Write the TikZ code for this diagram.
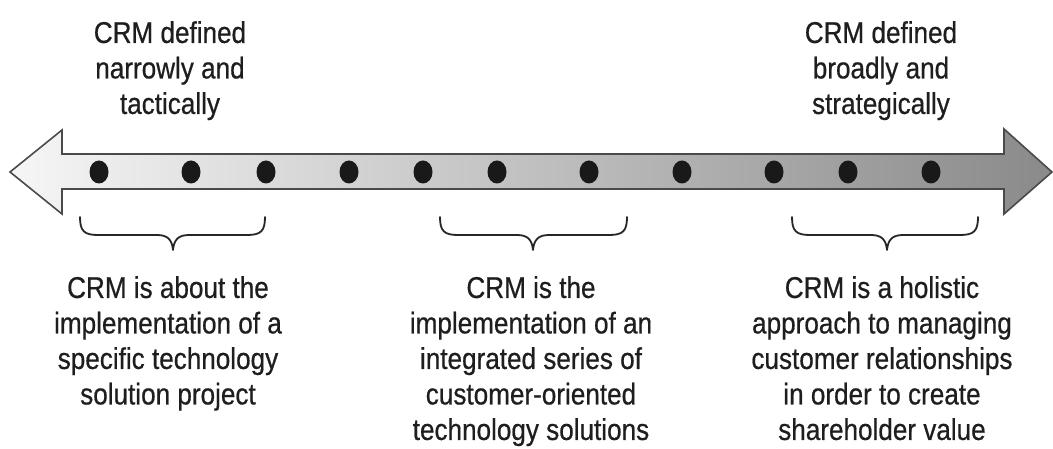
\documentclass[tikz,border=0pt]{standalone}
\usepackage{fontspec}
\setmainfont{Liberation Sans}[FakeStretch=0.87, FakeBold=0.6]
\definecolor{outline}{HTML}{4A4A4A}
\definecolor{shaftlight}{HTML}{F6F6F6}
\definecolor{shaftdark}{HTML}{8A8A8A}
\definecolor{inktext}{HTML}{1E1E1E}
\tikzset{
  label/.style={align=center, inner sep=0pt, anchor=north, text=inktext,
                font=\fontsize{30}{35.5}\selectfont},
  dot/.style={fill=black!90, draw=none},
  bracket/.style={draw=black!85, line width=1.8pt, line cap=round, line join=round},
}
% curly bracket from x=#1 to x=#3 with its point at x=#2
\newcommand\crmbracket[3]{%
  \draw[bracket] (#1,217) .. controls (#1,231) and (#1+4,235) .. (#1+18,235)
    -- (#2-16,235) .. controls (#2-5,235) and (#2-1,240) .. (#2,250)
    .. controls (#2+1,240) and (#2+5,235) .. (#2+16,235)
    -- (#3-18,235) .. controls (#3-4,235) and (#3,231) .. (#3,217);}
\begin{document}
\begin{tikzpicture}[x=1pt,y=-1pt]
  \useasboundingbox (0,0) rectangle (1053,449);
  % double-headed spectrum arrow
  \shade[left color=shaftlight, right color=shaftdark]
    (10,172) -- (62,130) -- (62,154) -- (1004,154) -- (1004,129)
    -- (1052,172) -- (1004,214) -- (1004,189) -- (62,189) -- (62,214) -- cycle;
  \draw[outline, line width=1.6pt, line join=miter]
    (10,172) -- (62,130) -- (62,154) -- (1004,154) -- (1004,129)
    -- (1052,172) -- (1004,214) -- (1004,189) -- (62,189) -- (62,214) -- cycle;
  % points along the spectrum
  \foreach \x [count=\i] in {99,191,266,349,423,497,589,682,774,848,931}
    \fill[dot] (\x,172) ellipse [x radius=9.5pt, y radius=11.5pt];
  % brackets grouping the points
  \crmbracket{80}{173}{265}
  \crmbracket{440}{533}{627}
  \crmbracket{792}{887}{978}
  % end labels
  \node[label] (narrow) at (170,21) {CRM defined\\narrowly and\\tactically};
  \node[label] (broad) at (881,21) {CRM defined\\broadly and\\strategically};
  % group descriptions
  \node[label] (tech) at (168,276) {CRM is about the\\implementation of a\\specific technology\\solution project};
  \node[label] (series) at (531,276) {CRM is the\\implementation of an\\integrated series of\\customer-oriented\\technology solutions};
  \node[label] (holistic) at (882,276) {CRM is a holistic\\approach to managing\\customer relationships\\in order to create\\shareholder value};
\end{tikzpicture}
\end{document}
